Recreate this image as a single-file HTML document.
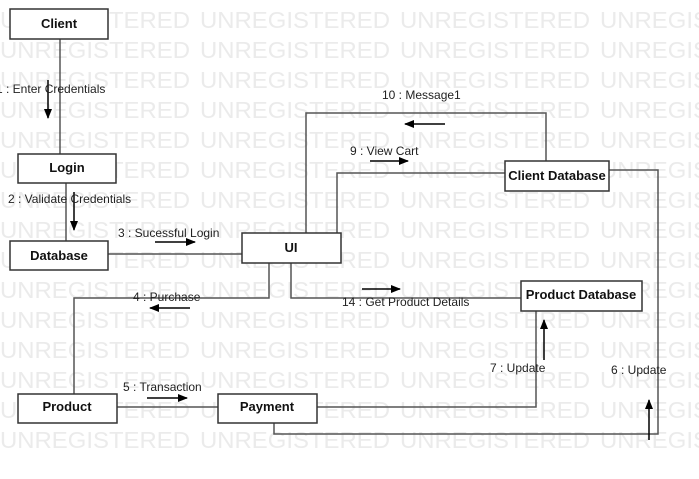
<!DOCTYPE html>
<html><head><meta charset="utf-8"><style>
html,body{margin:0;padding:0;background:#fff;}
svg{display:block;}
.wm{font-family:"Liberation Sans",sans-serif;font-size:23px;fill:#ebebeb;}
.lb{font-family:"Liberation Sans",sans-serif;font-size:12px;fill:#222;}
.bx{font-family:"Liberation Sans",sans-serif;font-size:13px;font-weight:bold;fill:#111;text-anchor:middle;}
</style></head><body>
<svg width="699" height="479" viewBox="0 0 699 479" xmlns="http://www.w3.org/2000/svg">
<defs><marker id="a" markerWidth="10" markerHeight="8" refX="9" refY="4" orient="auto" markerUnits="userSpaceOnUse"><path d="M0,0 L10,4 L0,8 z" fill="#000"/></marker>
</defs>
<g class="wm">
<text y="28"><tspan x="0" textLength="190" lengthAdjust="spacingAndGlyphs">UNREGISTERED</tspan></text>
<text y="28" x="200" textLength="190" lengthAdjust="spacingAndGlyphs">UNREGISTERED</text>
<text y="28" x="400" textLength="190" lengthAdjust="spacingAndGlyphs">UNREGISTERED</text>
<text y="28" x="600" textLength="190" lengthAdjust="spacingAndGlyphs">UNREGISTERED</text>
<text y="58" x="0" textLength="190" lengthAdjust="spacingAndGlyphs">UNREGISTERED</text>
<text y="58" x="200" textLength="190" lengthAdjust="spacingAndGlyphs">UNREGISTERED</text>
<text y="58" x="400" textLength="190" lengthAdjust="spacingAndGlyphs">UNREGISTERED</text>
<text y="58" x="600" textLength="190" lengthAdjust="spacingAndGlyphs">UNREGISTERED</text>
<text y="88" x="0" textLength="190" lengthAdjust="spacingAndGlyphs">UNREGISTERED</text>
<text y="88" x="200" textLength="190" lengthAdjust="spacingAndGlyphs">UNREGISTERED</text>
<text y="88" x="400" textLength="190" lengthAdjust="spacingAndGlyphs">UNREGISTERED</text>
<text y="88" x="600" textLength="190" lengthAdjust="spacingAndGlyphs">UNREGISTERED</text>
<text y="118" x="0" textLength="190" lengthAdjust="spacingAndGlyphs">UNREGISTERED</text>
<text y="118" x="200" textLength="190" lengthAdjust="spacingAndGlyphs">UNREGISTERED</text>
<text y="118" x="400" textLength="190" lengthAdjust="spacingAndGlyphs">UNREGISTERED</text>
<text y="118" x="600" textLength="190" lengthAdjust="spacingAndGlyphs">UNREGISTERED</text>
<text y="148" x="0" textLength="190" lengthAdjust="spacingAndGlyphs">UNREGISTERED</text>
<text y="148" x="200" textLength="190" lengthAdjust="spacingAndGlyphs">UNREGISTERED</text>
<text y="148" x="400" textLength="190" lengthAdjust="spacingAndGlyphs">UNREGISTERED</text>
<text y="148" x="600" textLength="190" lengthAdjust="spacingAndGlyphs">UNREGISTERED</text>
<text y="178" x="0" textLength="190" lengthAdjust="spacingAndGlyphs">UNREGISTERED</text>
<text y="178" x="200" textLength="190" lengthAdjust="spacingAndGlyphs">UNREGISTERED</text>
<text y="178" x="400" textLength="190" lengthAdjust="spacingAndGlyphs">UNREGISTERED</text>
<text y="178" x="600" textLength="190" lengthAdjust="spacingAndGlyphs">UNREGISTERED</text>
<text y="208" x="0" textLength="190" lengthAdjust="spacingAndGlyphs">UNREGISTERED</text>
<text y="208" x="200" textLength="190" lengthAdjust="spacingAndGlyphs">UNREGISTERED</text>
<text y="208" x="400" textLength="190" lengthAdjust="spacingAndGlyphs">UNREGISTERED</text>
<text y="208" x="600" textLength="190" lengthAdjust="spacingAndGlyphs">UNREGISTERED</text>
<text y="238" x="0" textLength="190" lengthAdjust="spacingAndGlyphs">UNREGISTERED</text>
<text y="238" x="200" textLength="190" lengthAdjust="spacingAndGlyphs">UNREGISTERED</text>
<text y="238" x="400" textLength="190" lengthAdjust="spacingAndGlyphs">UNREGISTERED</text>
<text y="238" x="600" textLength="190" lengthAdjust="spacingAndGlyphs">UNREGISTERED</text>
<text y="268" x="0" textLength="190" lengthAdjust="spacingAndGlyphs">UNREGISTERED</text>
<text y="268" x="200" textLength="190" lengthAdjust="spacingAndGlyphs">UNREGISTERED</text>
<text y="268" x="400" textLength="190" lengthAdjust="spacingAndGlyphs">UNREGISTERED</text>
<text y="268" x="600" textLength="190" lengthAdjust="spacingAndGlyphs">UNREGISTERED</text>
<text y="298" x="0" textLength="190" lengthAdjust="spacingAndGlyphs">UNREGISTERED</text>
<text y="298" x="200" textLength="190" lengthAdjust="spacingAndGlyphs">UNREGISTERED</text>
<text y="298" x="400" textLength="190" lengthAdjust="spacingAndGlyphs">UNREGISTERED</text>
<text y="298" x="600" textLength="190" lengthAdjust="spacingAndGlyphs">UNREGISTERED</text>
<text y="328" x="0" textLength="190" lengthAdjust="spacingAndGlyphs">UNREGISTERED</text>
<text y="328" x="200" textLength="190" lengthAdjust="spacingAndGlyphs">UNREGISTERED</text>
<text y="328" x="400" textLength="190" lengthAdjust="spacingAndGlyphs">UNREGISTERED</text>
<text y="328" x="600" textLength="190" lengthAdjust="spacingAndGlyphs">UNREGISTERED</text>
<text y="358" x="0" textLength="190" lengthAdjust="spacingAndGlyphs">UNREGISTERED</text>
<text y="358" x="200" textLength="190" lengthAdjust="spacingAndGlyphs">UNREGISTERED</text>
<text y="358" x="400" textLength="190" lengthAdjust="spacingAndGlyphs">UNREGISTERED</text>
<text y="358" x="600" textLength="190" lengthAdjust="spacingAndGlyphs">UNREGISTERED</text>
<text y="388" x="0" textLength="190" lengthAdjust="spacingAndGlyphs">UNREGISTERED</text>
<text y="388" x="200" textLength="190" lengthAdjust="spacingAndGlyphs">UNREGISTERED</text>
<text y="388" x="400" textLength="190" lengthAdjust="spacingAndGlyphs">UNREGISTERED</text>
<text y="388" x="600" textLength="190" lengthAdjust="spacingAndGlyphs">UNREGISTERED</text>
<text y="418" x="0" textLength="190" lengthAdjust="spacingAndGlyphs">UNREGISTERED</text>
<text y="418" x="200" textLength="190" lengthAdjust="spacingAndGlyphs">UNREGISTERED</text>
<text y="418" x="400" textLength="190" lengthAdjust="spacingAndGlyphs">UNREGISTERED</text>
<text y="418" x="600" textLength="190" lengthAdjust="spacingAndGlyphs">UNREGISTERED</text>
<text y="448" x="0" textLength="190" lengthAdjust="spacingAndGlyphs">UNREGISTERED</text>
<text y="448" x="200" textLength="190" lengthAdjust="spacingAndGlyphs">UNREGISTERED</text>
<text y="448" x="400" textLength="190" lengthAdjust="spacingAndGlyphs">UNREGISTERED</text>
<text y="448" x="600" textLength="190" lengthAdjust="spacingAndGlyphs">UNREGISTERED</text>
</g>
<g fill="none" stroke="#555" stroke-width="1.5">
<path d="M60,39 V154"/>
<path d="M66,183 V241"/>
<path d="M108,254 H242"/>
<path d="M337,233 V173 H505"/>
<path d="M306,233 V113 H546 V161"/>
<path d="M269,263 V298 H74 V394"/>
<path d="M291,263 V298 H521"/>
<path d="M117,407 H218"/>
<path d="M317,407 H536 V311"/>
<path d="M274,423 V434 H658 V170 H609"/>
</g>
<g stroke="#000" stroke-width="1.5" fill="none">
<path d="M48,80 V118" marker-end="url(#a)"/>
<path d="M74,192 V230" marker-end="url(#a)"/>
<path d="M155,242 H195" marker-end="url(#a)"/>
<path d="M370,161 H408" marker-end="url(#a)"/>
<path d="M445,124 H405" marker-end="url(#a)"/>
<path d="M190,308 H150" marker-end="url(#a)"/>
<path d="M362,289 H400" marker-end="url(#a)"/>
<path d="M147,398 H187" marker-end="url(#a)"/>
<path d="M544,360 V320" marker-end="url(#a)"/>
<path d="M649,440 V400" marker-end="url(#a)"/>
</g>
<g fill="#fff" stroke="#333" stroke-width="1.5">
<rect x="10" y="9" width="98" height="30"/>
<rect x="18" y="154" width="98" height="29"/>
<rect x="10" y="241" width="98" height="29"/>
<rect x="242" y="233" width="99" height="30"/>
<rect x="505" y="161" width="104" height="30"/>
<rect x="521" y="281" width="121" height="30"/>
<rect x="18" y="394" width="99" height="29"/>
<rect x="218" y="394" width="99" height="29"/>
</g>
<g class="bx">
<text x="59" y="28">Client</text>
<text x="67" y="172">Login</text>
<text x="59" y="260">Database</text>
<text x="291" y="252">UI</text>
<text x="557" y="180">Client Database</text>
<text x="581" y="299">Product Database</text>
<text x="67" y="411">Product</text>
<text x="267" y="411">Payment</text>
</g>
<g class="lb">
<text x="-4" y="93">1 : Enter Credentials</text>
<text x="8" y="203">2 : Validate Credentials</text>
<text x="118" y="237">3 : Sucessful Login</text>
<text x="350" y="155">9 : View Cart</text>
<text x="382" y="99">10 : Message1</text>
<text x="133" y="301">4 : Purchase</text>
<text x="342" y="306">14 : Get Product Details</text>
<text x="123" y="391">5 : Transaction</text>
<text x="490" y="372">7 : Update</text>
<text x="611" y="374">6 : Update</text>
</g>
</svg>
</body></html>
